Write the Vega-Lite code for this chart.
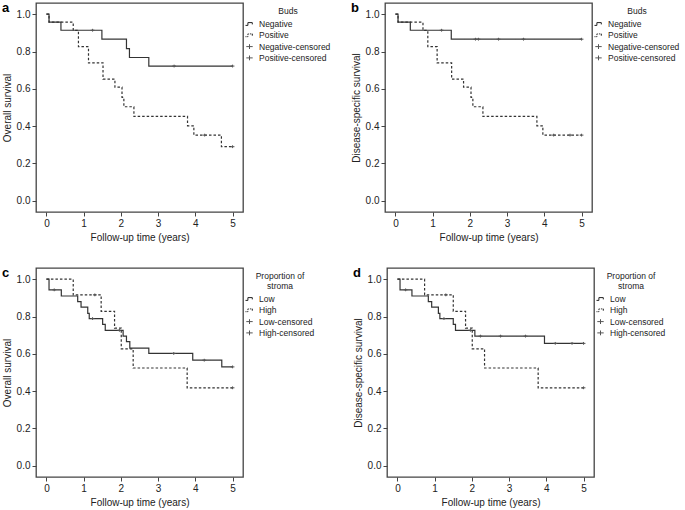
{
  "$schema": "https://vega.github.io/schema/vega-lite/v6.json",
  "padding": {"left": 1, "top": 1, "right": 0, "bottom": 0},
  "background": "white",
  "config": {
    "font": "Liberation Sans",
    "view": {"stroke": "#444", "strokeWidth": 1.3},
    "axis": {"domain": false, "grid": false, "tickColor": "#444", "tickSize": 4, "labelFontSize": 10, "titleFontSize": 10, "titleFontWeight": "normal", "labelColor": "#222", "titleColor": "#222", "labelPadding": 2, "titlePadding": 4},
    "legend": {"labelFontSize": 8.5, "titleFontSize": 8.5, "titleFontWeight": "normal", "titleColor": "#222", "labelColor": "#222", "symbolSize": 64, "symbolStrokeWidth": 1, "rowPadding": 2.3, "titlePadding": 4, "offset": -2, "labelOffset": 5, "padding": 4, "titleAnchor": "middle", "titleLineHeight": 10},
    "title": {"fontSize": 13, "fontWeight": "bold", "anchor": "start", "frame": "bounds", "offset": -12, "color": "#000"}
  },
  "datasets": {
    "km": [
      {"p": "a", "g": "Negative", "t": 0, "s": 1},
      {"p": "a", "g": "Negative", "t": 0.07, "s": 0.958},
      {"p": "a", "g": "Negative", "t": 0.39, "s": 0.914},
      {"p": "a", "g": "Negative", "t": 1.49, "s": 0.866},
      {"p": "a", "g": "Negative", "t": 2.15, "s": 0.815},
      {"p": "a", "g": "Negative", "t": 2.23, "s": 0.768},
      {"p": "a", "g": "Negative", "t": 2.75, "s": 0.722},
      {"p": "a", "g": "Negative", "t": 5.0, "s": 0.722},
      {"p": "a", "g": "Positive", "t": 0, "s": 1},
      {"p": "a", "g": "Positive", "t": 0.07, "s": 0.957},
      {"p": "a", "g": "Positive", "t": 0.72, "s": 0.913},
      {"p": "a", "g": "Positive", "t": 0.86, "s": 0.826},
      {"p": "a", "g": "Positive", "t": 1.13, "s": 0.739},
      {"p": "a", "g": "Positive", "t": 1.52, "s": 0.652},
      {"p": "a", "g": "Positive", "t": 1.84, "s": 0.609},
      {"p": "a", "g": "Positive", "t": 2.03, "s": 0.554},
      {"p": "a", "g": "Positive", "t": 2.08, "s": 0.504},
      {"p": "a", "g": "Positive", "t": 2.35, "s": 0.452},
      {"p": "a", "g": "Positive", "t": 3.79, "s": 0.402},
      {"p": "a", "g": "Positive", "t": 3.96, "s": 0.352},
      {"p": "a", "g": "Positive", "t": 4.7, "s": 0.29},
      {"p": "a", "g": "Positive", "t": 5.0, "s": 0.29},
      {"p": "b", "g": "Negative", "t": 0, "s": 1},
      {"p": "b", "g": "Negative", "t": 0.07, "s": 0.958},
      {"p": "b", "g": "Negative", "t": 0.4, "s": 0.914},
      {"p": "b", "g": "Negative", "t": 1.5, "s": 0.866},
      {"p": "b", "g": "Negative", "t": 5.0, "s": 0.866},
      {"p": "b", "g": "Positive", "t": 0, "s": 1},
      {"p": "b", "g": "Positive", "t": 0.07, "s": 0.957},
      {"p": "b", "g": "Positive", "t": 0.74, "s": 0.913},
      {"p": "b", "g": "Positive", "t": 0.87, "s": 0.826},
      {"p": "b", "g": "Positive", "t": 1.12, "s": 0.739},
      {"p": "b", "g": "Positive", "t": 1.51, "s": 0.652},
      {"p": "b", "g": "Positive", "t": 1.83, "s": 0.609},
      {"p": "b", "g": "Positive", "t": 2.03, "s": 0.554},
      {"p": "b", "g": "Positive", "t": 2.08, "s": 0.504},
      {"p": "b", "g": "Positive", "t": 2.35, "s": 0.452},
      {"p": "b", "g": "Positive", "t": 3.8, "s": 0.402},
      {"p": "b", "g": "Positive", "t": 3.96, "s": 0.352},
      {"p": "b", "g": "Positive", "t": 5.0, "s": 0.352},
      {"p": "c", "g": "Low", "t": 0, "s": 1},
      {"p": "c", "g": "Low", "t": 0.07, "s": 0.943},
      {"p": "c", "g": "Low", "t": 0.4, "s": 0.91},
      {"p": "c", "g": "Low", "t": 0.84, "s": 0.88},
      {"p": "c", "g": "Low", "t": 0.93, "s": 0.85},
      {"p": "c", "g": "Low", "t": 1.11, "s": 0.817},
      {"p": "c", "g": "Low", "t": 1.15, "s": 0.789},
      {"p": "c", "g": "Low", "t": 1.51, "s": 0.758},
      {"p": "c", "g": "Low", "t": 1.58, "s": 0.726},
      {"p": "c", "g": "Low", "t": 2.06, "s": 0.695},
      {"p": "c", "g": "Low", "t": 2.15, "s": 0.665},
      {"p": "c", "g": "Low", "t": 2.24, "s": 0.631},
      {"p": "c", "g": "Low", "t": 2.75, "s": 0.602},
      {"p": "c", "g": "Low", "t": 3.93, "s": 0.566},
      {"p": "c", "g": "Low", "t": 4.71, "s": 0.53},
      {"p": "c", "g": "Low", "t": 5.0, "s": 0.53},
      {"p": "c", "g": "High", "t": 0, "s": 1},
      {"p": "c", "g": "High", "t": 0.72, "s": 0.916},
      {"p": "c", "g": "High", "t": 1.47, "s": 0.828},
      {"p": "c", "g": "High", "t": 1.83, "s": 0.738},
      {"p": "c", "g": "High", "t": 2.01, "s": 0.627},
      {"p": "c", "g": "High", "t": 2.33, "s": 0.524},
      {"p": "c", "g": "High", "t": 3.78, "s": 0.418},
      {"p": "c", "g": "High", "t": 5.0, "s": 0.418},
      {"p": "d", "g": "Low", "t": 0, "s": 1},
      {"p": "d", "g": "Low", "t": 0.07, "s": 0.943},
      {"p": "d", "g": "Low", "t": 0.39, "s": 0.91},
      {"p": "d", "g": "Low", "t": 0.83, "s": 0.88},
      {"p": "d", "g": "Low", "t": 0.92, "s": 0.85},
      {"p": "d", "g": "Low", "t": 1.1, "s": 0.817},
      {"p": "d", "g": "Low", "t": 1.14, "s": 0.789},
      {"p": "d", "g": "Low", "t": 1.5, "s": 0.758},
      {"p": "d", "g": "Low", "t": 1.56, "s": 0.726},
      {"p": "d", "g": "Low", "t": 2.08, "s": 0.695},
      {"p": "d", "g": "Low", "t": 3.95, "s": 0.656},
      {"p": "d", "g": "Low", "t": 5.0, "s": 0.656},
      {"p": "d", "g": "High", "t": 0, "s": 1},
      {"p": "d", "g": "High", "t": 0.73, "s": 0.916},
      {"p": "d", "g": "High", "t": 1.5, "s": 0.828},
      {"p": "d", "g": "High", "t": 1.83, "s": 0.738},
      {"p": "d", "g": "High", "t": 2.01, "s": 0.627},
      {"p": "d", "g": "High", "t": 2.34, "s": 0.524},
      {"p": "d", "g": "High", "t": 3.78, "s": 0.418},
      {"p": "d", "g": "High", "t": 5.0, "s": 0.418}
    ],
    "cens": [
      {"p": "a", "g": "Negative-censored", "t": 1.24, "s": 0.914},
      {"p": "a", "g": "Negative-censored", "t": 3.43, "s": 0.722},
      {"p": "a", "g": "Negative-censored", "t": 5.0, "s": 0.722},
      {"p": "a", "g": "Positive-censored", "t": 4.25, "s": 0.352},
      {"p": "a", "g": "Positive-censored", "t": 5.0, "s": 0.29},
      {"p": "b", "g": "Negative-censored", "t": 1.24, "s": 0.914},
      {"p": "b", "g": "Negative-censored", "t": 2.15, "s": 0.866},
      {"p": "b", "g": "Negative-censored", "t": 2.23, "s": 0.866},
      {"p": "b", "g": "Negative-censored", "t": 2.77, "s": 0.866},
      {"p": "b", "g": "Negative-censored", "t": 3.44, "s": 0.866},
      {"p": "b", "g": "Negative-censored", "t": 5.0, "s": 0.866},
      {"p": "b", "g": "Positive-censored", "t": 4.25, "s": 0.352},
      {"p": "b", "g": "Positive-censored", "t": 4.69, "s": 0.352},
      {"p": "b", "g": "Positive-censored", "t": 5.0, "s": 0.352},
      {"p": "c", "g": "Low-censored", "t": 0.21, "s": 0.943},
      {"p": "c", "g": "Low-censored", "t": 1.24, "s": 0.789},
      {"p": "c", "g": "Low-censored", "t": 1.96, "s": 0.726},
      {"p": "c", "g": "Low-censored", "t": 3.42, "s": 0.602},
      {"p": "c", "g": "Low-censored", "t": 4.24, "s": 0.566},
      {"p": "c", "g": "Low-censored", "t": 5.0, "s": 0.53},
      {"p": "c", "g": "High-censored", "t": 1.3, "s": 0.916},
      {"p": "c", "g": "High-censored", "t": 5.0, "s": 0.418},
      {"p": "d", "g": "Low-censored", "t": 0.22, "s": 0.943},
      {"p": "d", "g": "Low-censored", "t": 1.25, "s": 0.789},
      {"p": "d", "g": "Low-censored", "t": 1.96, "s": 0.726},
      {"p": "d", "g": "Low-censored", "t": 2.23, "s": 0.695},
      {"p": "d", "g": "Low-censored", "t": 2.77, "s": 0.695},
      {"p": "d", "g": "Low-censored", "t": 3.44, "s": 0.695},
      {"p": "d", "g": "Low-censored", "t": 4.24, "s": 0.656},
      {"p": "d", "g": "Low-censored", "t": 4.69, "s": 0.656},
      {"p": "d", "g": "Low-censored", "t": 5.0, "s": 0.656},
      {"p": "d", "g": "High-censored", "t": 1.3, "s": 0.916},
      {"p": "d", "g": "High-censored", "t": 5.0, "s": 0.418}
    ]
  },
  "spacing": 23,
  "resolve": {"scale": {"shape": "independent", "strokeDash": "independent", "color": "independent"}},
  "vconcat": [
    {
      "spacing": 14,
      "resolve": {"scale": {"shape": "independent", "strokeDash": "independent", "color": "independent"}},
      "hconcat": [
        {
          "title": {"text": "a"},
          "width": 207, "height": 209,
          "layer": [
            {
              "data": {"name": "km"},
              "transform": [{"filter": "datum.p === 'a'"}],
              "mark": {"type": "line", "interpolate": "step-after", "color": "#333", "strokeWidth": 1.2},
              "encoding": {
                "x": {"field": "t", "type": "quantitative", "scale": {"domain": [-0.28, 5.28], "nice": false, "zero": false}, "axis": {"values": [0, 1, 2, 3, 4, 5], "title": "Follow-up time (years)"}},
                "y": {"field": "s", "type": "quantitative", "scale": {"domain": [-0.06, 1.06], "nice": false, "zero": false}, "axis": {"values": [0, 0.2, 0.4, 0.6, 0.8, 1.0], "format": ".1f", "title": "Overall survival"}},
                "strokeDash": {"field": "g", "type": "nominal", "scale": {"domain": ["Negative", "Positive"], "range": [[1, 0], [2.5, 2]]}, "legend": null}
              }
            },
            {
              "data": {"name": "cens"},
              "transform": [{"filter": "datum.p === 'a'"}],
              "mark": {"type": "point", "filled": false, "size": 22, "strokeWidth": 1, "opacity": 1},
              "encoding": {
                "x": {"field": "t", "type": "quantitative"},
                "y": {"field": "s", "type": "quantitative"},
                "shape": {"field": "g", "type": "nominal", "scale": {"domain": ["Negative", "Positive", "Negative-censored", "Positive-censored"], "range": ["M-1,0.35H-0.4V-0.35H0.7V0.1", "M-1,0.35H-0.75M-0.55,0.35H-0.4V0.15M-0.4,-0.1V-0.35H-0.2M0.1,-0.35H0.35M0.55,-0.35H0.7V0.1", "M-0.8,0H0.8M0,-0.6V0.6", "M-0.8,0H0.8M0,-0.6V0.6"]}, "legend": {"title": "Buds"}},
                "color": {"field": "g", "type": "nominal", "scale": {"domain": ["Negative", "Positive", "Negative-censored", "Positive-censored"], "range": ["#222", "#222", "#555", "#555"]}, "legend": {"title": "Buds"}}
              }
            }
          ]
        },
        {
          "title": {"text": "b"},
          "width": 207, "height": 209,
          "layer": [
            {
              "data": {"name": "km"},
              "transform": [{"filter": "datum.p === 'b'"}],
              "mark": {"type": "line", "interpolate": "step-after", "color": "#333", "strokeWidth": 1.2},
              "encoding": {
                "x": {"field": "t", "type": "quantitative", "scale": {"domain": [-0.28, 5.28], "nice": false, "zero": false}, "axis": {"values": [0, 1, 2, 3, 4, 5], "title": "Follow-up time (years)"}},
                "y": {"field": "s", "type": "quantitative", "scale": {"domain": [-0.06, 1.06], "nice": false, "zero": false}, "axis": {"values": [0, 0.2, 0.4, 0.6, 0.8, 1.0], "format": ".1f", "title": "Disease-specific survival"}},
                "strokeDash": {"field": "g", "type": "nominal", "scale": {"domain": ["Negative", "Positive"], "range": [[1, 0], [2.5, 2]]}, "legend": null}
              }
            },
            {
              "data": {"name": "cens"},
              "transform": [{"filter": "datum.p === 'b'"}],
              "mark": {"type": "point", "filled": false, "size": 22, "strokeWidth": 1, "opacity": 1},
              "encoding": {
                "x": {"field": "t", "type": "quantitative"},
                "y": {"field": "s", "type": "quantitative"},
                "shape": {"field": "g", "type": "nominal", "scale": {"domain": ["Negative", "Positive", "Negative-censored", "Positive-censored"], "range": ["M-1,0.35H-0.4V-0.35H0.7V0.1", "M-1,0.35H-0.75M-0.55,0.35H-0.4V0.15M-0.4,-0.1V-0.35H-0.2M0.1,-0.35H0.35M0.55,-0.35H0.7V0.1", "M-0.8,0H0.8M0,-0.6V0.6", "M-0.8,0H0.8M0,-0.6V0.6"]}, "legend": {"title": "Buds"}},
                "color": {"field": "g", "type": "nominal", "scale": {"domain": ["Negative", "Positive", "Negative-censored", "Positive-censored"], "range": ["#222", "#222", "#555", "#555"]}, "legend": {"title": "Buds"}}
              }
            }
          ]
        }
      ]
    },
    {
      "spacing": 32,
      "resolve": {"scale": {"shape": "independent", "strokeDash": "independent", "color": "independent"}},
      "hconcat": [
        {
          "title": {"text": "c"},
          "width": 207, "height": 209,
          "layer": [
            {
              "data": {"name": "km"},
              "transform": [{"filter": "datum.p === 'c'"}],
              "mark": {"type": "line", "interpolate": "step-after", "color": "#333", "strokeWidth": 1.2},
              "encoding": {
                "x": {"field": "t", "type": "quantitative", "scale": {"domain": [-0.28, 5.28], "nice": false, "zero": false}, "axis": {"values": [0, 1, 2, 3, 4, 5], "title": "Follow-up time (years)"}},
                "y": {"field": "s", "type": "quantitative", "scale": {"domain": [-0.06, 1.06], "nice": false, "zero": false}, "axis": {"values": [0, 0.2, 0.4, 0.6, 0.8, 1.0], "format": ".1f", "title": "Overall survival"}},
                "strokeDash": {"field": "g", "type": "nominal", "scale": {"domain": ["Low", "High"], "range": [[1, 0], [2.5, 2]]}, "legend": null}
              }
            },
            {
              "data": {"name": "cens"},
              "transform": [{"filter": "datum.p === 'c'"}],
              "mark": {"type": "point", "filled": false, "size": 22, "strokeWidth": 1, "opacity": 1},
              "encoding": {
                "x": {"field": "t", "type": "quantitative"},
                "y": {"field": "s", "type": "quantitative"},
                "shape": {"field": "g", "type": "nominal", "scale": {"domain": ["Low", "High", "Low-censored", "High-censored"], "range": ["M-1,0.35H-0.4V-0.35H0.7V0.1", "M-1,0.35H-0.75M-0.55,0.35H-0.4V0.15M-0.4,-0.1V-0.35H-0.2M0.1,-0.35H0.35M0.55,-0.35H0.7V0.1", "M-0.8,0H0.8M0,-0.6V0.6", "M-0.8,0H0.8M0,-0.6V0.6"]}, "legend": {"title": ["Proportion of", "stroma"]}},
                "color": {"field": "g", "type": "nominal", "scale": {"domain": ["Low", "High", "Low-censored", "High-censored"], "range": ["#222", "#222", "#555", "#555"]}, "legend": {"title": ["Proportion of", "stroma"]}}
              }
            }
          ]
        },
        {
          "title": {"text": "d"},
          "width": 207, "height": 209,
          "layer": [
            {
              "data": {"name": "km"},
              "transform": [{"filter": "datum.p === 'd'"}],
              "mark": {"type": "line", "interpolate": "step-after", "color": "#333", "strokeWidth": 1.2},
              "encoding": {
                "x": {"field": "t", "type": "quantitative", "scale": {"domain": [-0.28, 5.28], "nice": false, "zero": false}, "axis": {"values": [0, 1, 2, 3, 4, 5], "title": "Follow-up time (years)"}},
                "y": {"field": "s", "type": "quantitative", "scale": {"domain": [-0.06, 1.06], "nice": false, "zero": false}, "axis": {"values": [0, 0.2, 0.4, 0.6, 0.8, 1.0], "format": ".1f", "title": "Disease-specific survival"}},
                "strokeDash": {"field": "g", "type": "nominal", "scale": {"domain": ["Low", "High"], "range": [[1, 0], [2.5, 2]]}, "legend": null}
              }
            },
            {
              "data": {"name": "cens"},
              "transform": [{"filter": "datum.p === 'd'"}],
              "mark": {"type": "point", "filled": false, "size": 22, "strokeWidth": 1, "opacity": 1},
              "encoding": {
                "x": {"field": "t", "type": "quantitative"},
                "y": {"field": "s", "type": "quantitative"},
                "shape": {"field": "g", "type": "nominal", "scale": {"domain": ["Low", "High", "Low-censored", "High-censored"], "range": ["M-1,0.35H-0.4V-0.35H0.7V0.1", "M-1,0.35H-0.75M-0.55,0.35H-0.4V0.15M-0.4,-0.1V-0.35H-0.2M0.1,-0.35H0.35M0.55,-0.35H0.7V0.1", "M-0.8,0H0.8M0,-0.6V0.6", "M-0.8,0H0.8M0,-0.6V0.6"]}, "legend": {"title": ["Proportion of", "stroma"]}},
                "color": {"field": "g", "type": "nominal", "scale": {"domain": ["Low", "High", "Low-censored", "High-censored"], "range": ["#222", "#222", "#555", "#555"]}, "legend": {"title": ["Proportion of", "stroma"]}}
              }
            }
          ]
        }
      ]
    }
  ]
}
